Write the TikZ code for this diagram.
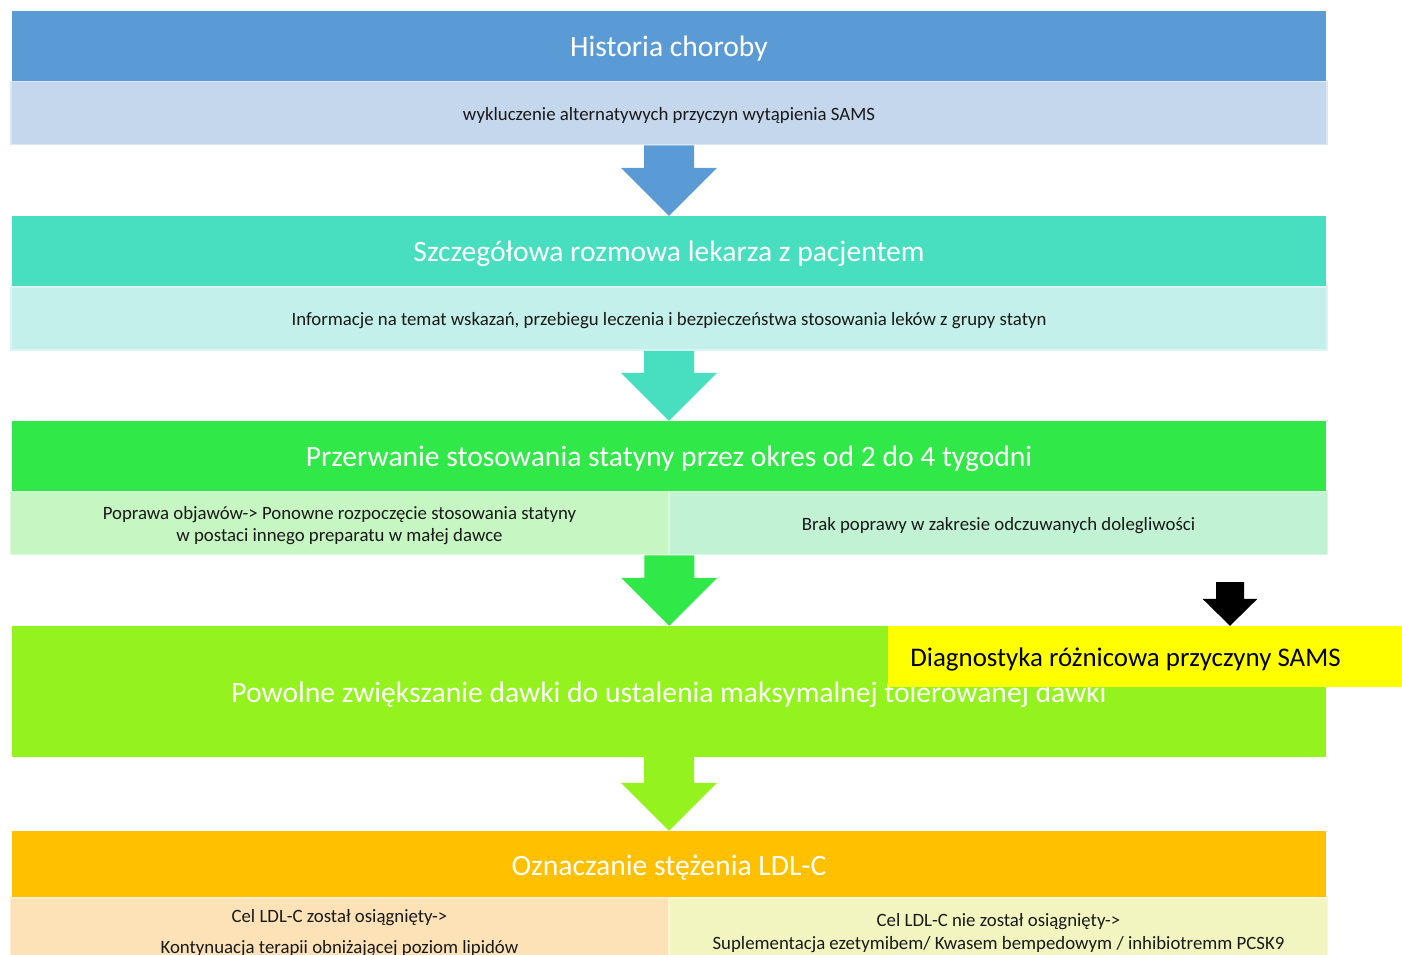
\documentclass[tikz,border=0pt]{standalone}
\usepackage{fontspec}
\setmainfont{Carlito}
\usetikzlibrary{calc}
\definecolor{cBlue}{RGB}{91,155,213}
\definecolor{cBlueL}{RGB}{197,215,237}
\definecolor{cTeal}{RGB}{72,223,192}
\definecolor{cTealL}{RGB}{195,240,234}
\definecolor{cGreen}{RGB}{48,232,72}
\definecolor{cGreenLA}{RGB}{198,247,194}
\definecolor{cGreenLB}{RGB}{193,242,212}
\definecolor{cLime}{RGB}{148,243,30}
\definecolor{cOrange}{RGB}{255,192,0}
\definecolor{cOrangeLA}{RGB}{253,226,184}
\definecolor{cOrangeLB}{RGB}{243,245,192}
\definecolor{cYellow}{RGB}{255,255,0}
\newcommand\blockarrow[6]{\fill[#1] let \p1=(#2), \p2=(#3) in
  (\x1-#4,\y1) -- (\x1+#4,\y1) -- (\x1+#4,\y2+#6) -- (\x1+#5,\y2+#6) --
  (\x1,\y2) -- (\x1-#5,\y2+#6) -- (\x1-#4,\y2+#6) -- cycle;}
\tikzset{
  hdr/.style={rectangle, inner sep=0pt, minimum width=1314pt, text=white,
    font=\fontsize{29.6}{34}\selectfont},
  sub/.style={rectangle, inner sep=0pt, line width=1.5pt, text=black!90,
    font=\fontsize{18.8}{22}\selectfont, align=center},
  lbl/.style={inner sep=0pt},
}
\begin{document}
\begin{tikzpicture}[x=1pt,y=-1pt]
\useasboundingbox (0,0) rectangle (1402,955);
\clip (0,0) rectangle (1402,955);
% level 1
\node[hdr, fill=cBlue, minimum height=70pt] (h1) at (669,46) {};
\node[hdr, lbl] (h1t) at (669,49) {Historia choroby};
\node[sub, fill=cBlueL, draw=cBlueL!60!white, minimum width=1316pt, minimum height=63pt] (s1) at (669,113) {};
\node[sub, lbl] (s1t) at (669,115.5) {wykluczenie alternatywych przyczyn wytąpienia SAMS};
% level 2
\node[hdr, fill=cTeal, minimum height=70pt] (h2) at (669,251) {};
\node[hdr, lbl] (h2t) at (669,254) {Szczegółowa rozmowa lekarza z pacjentem};
\node[sub, fill=cTealL, draw=cTealL!60!white, minimum width=1316pt, minimum height=63pt] (s2) at (669,318.5) {};
\node[sub, lbl] (s2t) at (669,321) {Informacje na temat wskazań, przebiegu leczenia i bezpieczeństwa stosowania leków z grupy statyn};
% level 3
\node[hdr, fill=cGreen, minimum height=70pt] (h3) at (669,456) {};
\node[hdr, lbl] (h3t) at (669,459) {Przerwanie stosowania statyny przez okres od 2 do 4 tygodni};
\node[sub, fill=cGreenLA, draw=cGreenLA!60!white, minimum width=658pt, minimum height=63pt] (s3a) at (339.5,523) {};
\node[sub, lbl] (s3at) at (339.5,526) {Poprawa objawów-> Ponowne rozpoczęcie stosowania statyny\\w postaci innego preparatu w małej dawce};
\node[sub, fill=cGreenLB, draw=cGreenLB!60!white, minimum width=658pt, minimum height=63pt] (s3b) at (998.5,523) {};
\node[sub, lbl] (s3bt) at (998.5,525.5) {Brak poprawy w zakresie odczuwanych dolegliwości};
% level 4
\node[hdr, fill=cLime, minimum height=131pt] (h4) at (669,691.5) {};
\node[hdr, lbl] (t4) at (669,695) {Powolne zwiększanie dawki do ustalenia maksymalnej tolerowanej dawki};
\node[rectangle, fill=cYellow, inner sep=0pt, minimum width=514pt, minimum height=61pt] (diag) at (1145,656.5) {};
\node[lbl, text=black, font=\fontsize{26.9}{30}\selectfont] (diagt) at (1125.5,659) {Diagnostyka różnicowa przyczyny SAMS};
\coordinate (bk) at (1230,582);
% level 5
\node[hdr, fill=cOrange, minimum height=67pt] (h5) at (669,864.5) {};
\node[hdr, lbl] (h5t) at (669,867.5) {Oznaczanie stężenia LDL-C};
\node[sub, fill=cOrangeLA, draw=cOrangeLA!60!white, minimum width=658pt, minimum height=65pt] (s5a) at (339.5,930.5) {};
\node[sub, lbl, font=\fontsize{18.8}{31}\selectfont] (s5at) at (339.5,933.5) {Cel LDL-C został osiągnięty->\\Kontynuacja terapii obniżającej poziom lipidów};
\node[sub, fill=cOrangeLB, draw=cOrangeLB!60!white, minimum width=658pt, minimum height=65pt] (s5b) at (998.5,930.5) {};
\node[sub, lbl, font=\fontsize{18.8}{23}\selectfont] (s5bt) at (998.5,933.5) {Cel LDL-C nie został osiągnięty->\\Suplementacja ezetymibem/ Kwasem bempedowym / inhibiotremm PCSK9};
% arrows
\blockarrow{cBlue}{s1.south}{h2.north}{25pt}{48pt}{48pt}
\blockarrow{cTeal}{s2.south}{h3.north}{25pt}{48pt}{48pt}
\blockarrow{cGreen}{s3a.south east}{h4.north}{25pt}{48pt}{48pt}
\blockarrow{cLime}{h4.south}{h5.north}{25pt}{48pt}{48pt}
\blockarrow{black}{bk}{diag.north}{14pt}{27.5pt}{27pt}
\end{tikzpicture}
\end{document}
